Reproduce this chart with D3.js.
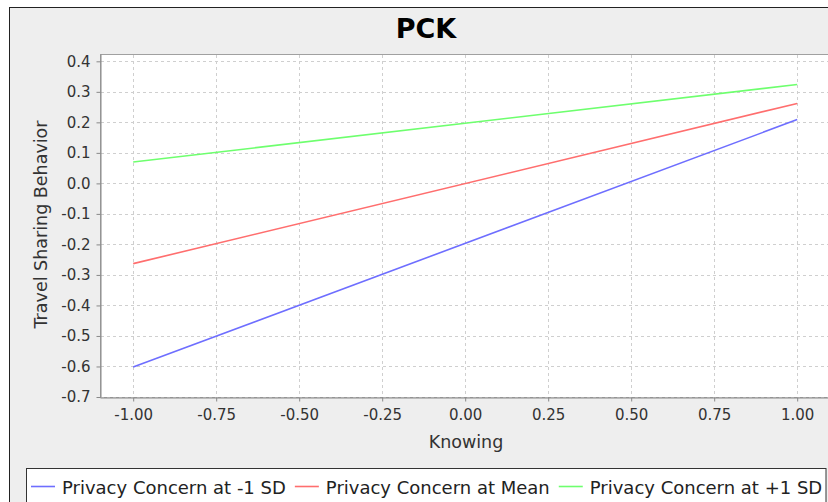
<!DOCTYPE html>
<html>
<head>
<meta charset="utf-8">
<script src="https://cdn.jsdelivr.net/npm/d3@7"></script>
<style>
  html, body { margin: 0; padding: 0; background: #ffffff; }
  svg { display: block; font-family: "DejaVu Sans", sans-serif; }
</style>
</head>
<body>
<svg id="chart" width="828" height="502"></svg>
<script>
// ---- data ----
const chartTitle = "PCK";
const xLabel = "Knowing";
const yLabel = "Travel Sharing Behavior";
const xValues = [-1, 1];
const seriesNames = ["Privacy Concern at -1 SD", "Privacy Concern at Mean", "Privacy Concern at +1 SD"];
const lowSD = [-0.602, 0.209];
const meanSD = [-0.263, 0.262];
const highSD = [0.070, 0.324];
const xTicks = [-1.00, -0.75, -0.50, -0.25, 0.00, 0.25, 0.50, 0.75, 1.00];
const yTicks = [-0.7, -0.6, -0.5, -0.4, -0.3, -0.2, -0.1, 0.0, 0.1, 0.2, 0.3, 0.4];
const seriesColors = ["#6e6eff", "#ff6e6e", "#6eff6e"];

const svg = d3.select("#chart");

// outer chart panel
svg.append("rect")
  .attr("x", 9.5).attr("y", 7.5).attr("width", 900).attr("height", 600)
  .attr("fill", "#eeeeee").attr("stroke", "#222").attr("stroke-width", 1);

const plot = { left: 100, top: 54, bottom: 397, right: 830.4 };

const x = d3.scaleLinear().domain([-1.1, 1.1]).range([plot.left, plot.right]);
const y = d3.scaleLinear().domain([-0.7, 0.424]).range([plot.bottom, plot.top]);

// plot background
svg.append("rect")
  .attr("x", plot.left + 0.5).attr("y", plot.top + 0.5)
  .attr("width", plot.right - plot.left).attr("height", plot.bottom - plot.top)
  .attr("fill", "#ffffff").attr("stroke", "#a0a0a0").attr("stroke-width", 1);

// gridlines
const grid = svg.append("g").attr("stroke", "#cfcfcf").attr("stroke-dasharray", "3,3").attr("stroke-width", 1);
grid.selectAll("line.v").data(xTicks).join("line")
  .attr("x1", d => Math.round(x(d)) + 0.5).attr("x2", d => Math.round(x(d)) + 0.5)
  .attr("y1", plot.top + 1).attr("y2", plot.bottom);
grid.selectAll("line.h").data(yTicks).join("line")
  .attr("y1", d => Math.round(y(d)) + 0.5).attr("y2", d => Math.round(y(d)) + 0.5)
  .attr("x1", plot.left + 1).attr("x2", plot.right);

// axes (hyphen-minus like the reference)
const fmtX = d => d3.format(".2f")(d).replace("\u2212", "-");
const fmtY = d => d3.format(".1f")(d).replace("\u2212", "-");
const xAxis = d3.axisBottom(x).tickValues(xTicks).tickFormat(fmtX).tickSizeInner(4).tickSizeOuter(0).tickPadding(8);
const yAxis = d3.axisLeft(y).tickValues(yTicks).tickFormat(fmtY).tickSizeInner(4).tickSizeOuter(0).tickPadding(6);

const gx = svg.append("g").attr("transform", `translate(0,${plot.bottom + 0.5})`).call(xAxis);
const gy = svg.append("g").attr("transform", `translate(${plot.left + 0.5},0)`).call(yAxis);
[gx, gy].forEach(g => {
  g.select(".domain").attr("stroke", "#888888");
  g.selectAll(".tick line").attr("stroke", "#888888");
  g.selectAll(".tick text").attr("fill", "#333333").style("font-size", "15px").style("font-family", "DejaVu Sans, sans-serif");
});
gx.selectAll(".tick text").attr("dy", null).attr("y", 22);

// lines
const allSeries = [lowSD, meanSD, highSD];
const lineGen = d3.line().x((d, i) => x(xValues[i])).y(d => y(d));
svg.append("g").selectAll("path").data(allSeries).join("path")
  .attr("d", d => lineGen(d))
  .attr("fill", "none")
  .attr("stroke", (d, i) => seriesColors[i])
  .attr("stroke-width", 1.6);

// title
svg.append("text").attr("x", 426).attr("y", 38).attr("text-anchor", "middle")
  .style("font-size", "27px").style("font-weight", "bold").attr("fill", "#000")
  .text(chartTitle);

// axis labels
svg.append("text").attr("x", 466).attr("y", 448).attr("text-anchor", "middle")
  .style("font-size", "17.5px").attr("fill", "#333").text(xLabel);
svg.append("text").attr("transform", "rotate(-90)").attr("x", -224.5).attr("y", 47)
  .attr("text-anchor", "middle").style("font-size", "17.5px").attr("fill", "#333").text(yLabel);

// legend
svg.append("rect").attr("x", 26.5).attr("y", 468.5).attr("width", 799.5).attr("height", 60)
  .attr("fill", "#ffffff").attr("stroke", "#333").attr("stroke-width", 1);
let lx = 31;
seriesNames.forEach((name, i) => {
  svg.append("line").attr("x1", lx).attr("x2", lx + 24).attr("y1", 486.5).attr("y2", 486.5)
    .attr("stroke", seriesColors[i]).attr("stroke-width", 1.6);
  const t = svg.append("text").attr("x", lx + 31).attr("y", 494)
    .style("font-size", "18px").attr("fill", "#222").text(name);
  lx = lx + 31 + t.node().getComputedTextLength() + 9;
});
</script>
</body>
</html>
